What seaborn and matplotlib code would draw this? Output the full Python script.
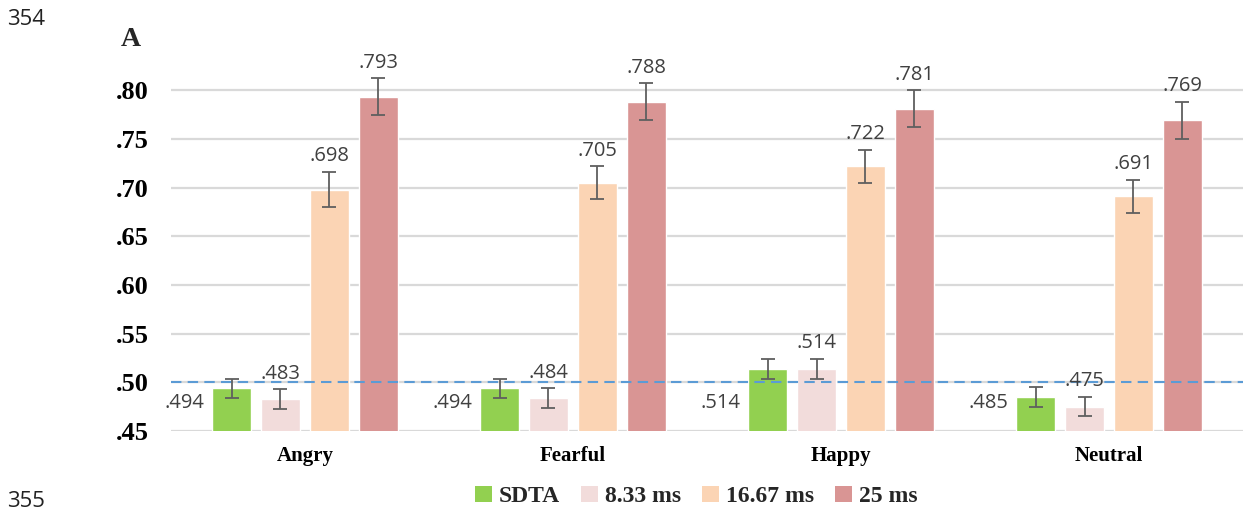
import numpy as np
import pandas as pd
import seaborn as sns
import matplotlib.pyplot as plt
from matplotlib.patches import Patch

emotions = ["Angry", "Fearful", "Happy", "Neutral"]
conditions = ["SDTA", "8.33 ms", "16.67 ms", "25 ms"]
sdta = [0.494, 0.494, 0.514, 0.485]
ms_833 = [0.483, 0.484, 0.514, 0.475]
ms_1667 = [0.698, 0.705, 0.722, 0.691]
ms_25 = [0.793, 0.788, 0.781, 0.769]
err_sdta = [0.010, 0.010, 0.010, 0.010]
err_833 = [0.010, 0.010, 0.010, 0.010]
err_1667 = [0.018, 0.017, 0.017, 0.017]
err_25 = [0.019, 0.019, 0.019, 0.019]
yticks = [0.45, 0.50, 0.55, 0.60, 0.65, 0.70, 0.75, 0.80]
ytick_labels = [".45", ".50", ".55", ".60", ".65", ".70", ".75", ".80"]
chance = 0.50

colors = ["#92D050", "#F2DCDB", "#FBD4B4", "#D99594"]

series = [sdta, ms_833, ms_1667, ms_25]
errors = [err_sdta, err_833, err_1667, err_25]
rows = []
for cond, vals, errs in zip(conditions, series, errors):
    for emo, v, e in zip(emotions, vals, errs):
        rows.append({"emotion": emo, "condition": cond, "acc": v, "err": e})
df = pd.DataFrame(rows)

sns.set_theme(style="white")
plt.rcParams["font.family"] = ["Liberation Serif", "DejaVu Serif"]

fig = plt.figure(figsize=(12.48, 5.12), dpi=100)
ax = fig.add_axes([0.137, 0.158, 0.859, 0.742])

sns.barplot(data=df, x="emotion", y="acc", hue="condition", order=emotions,
            hue_order=conditions, palette=colors, saturation=1, width=0.731, gap=0.2,
            errorbar=None, legend=False, ax=ax, zorder=3)

ax.set_ylim(0.45, 0.84)
ax.set_xlim(-0.5, 3.5)
ax.set_yticks(yticks)
ax.set_yticklabels(ytick_labels, fontsize=19, fontweight="bold", color="black")
for lab in ax.get_xticklabels():
    lab.set_fontsize(15)
    lab.set_fontweight("bold")
    lab.set_color("black")
ax.set_xlabel("")
ax.set_ylabel("")
ax.tick_params(axis="x", length=0, pad=11)
ax.tick_params(axis="y", length=0, pad=16)
for s in ax.spines.values():
    s.set_visible(False)
for t in yticks:
    ax.axhline(t, color="#D9D9D9", lw=1.6, zorder=1)
ax.axhline(chance, color="#5B9BD5", lw=1.5, ls=(0, (5, 3)), zorder=4)

value_font = dict(family=["Open Sans", "DejaVu Sans"], fontsize=14.5, color="#404040")
for ci, (container, vals, errs) in enumerate(zip(ax.containers, series, errors)):
    for bar, v, e in zip(container.patches, vals, errs):
        xc = bar.get_x() + bar.get_width() / 2
        ax.errorbar(xc, v, yerr=e, fmt="none", ecolor="#5F5F5F", elinewidth=1.3,
                    capsize=5, capthick=1.3, zorder=5)
        label = f"{v:.3f}"[1:]
        if ci == 0:
            ax.text(xc - bar.get_width() * 1.2, 0.479, label, ha="center",
                    va="center", zorder=6, **value_font)
        else:
            ax.annotate(label, (xc, v + e), xytext=(0, 4), textcoords="offset points",
                        ha="center", va="bottom", zorder=6, **value_font)

handles = [Patch(facecolor=c, edgecolor="none", label=l) for c, l in zip(colors, conditions)]
fig.legend(handles=handles, loc="center", bbox_to_anchor=(0.558, 0.03), ncol=4,
           frameon=False, handlelength=0.7, handleheight=0.7, handletextpad=0.3,
           columnspacing=0.9, prop=dict(family="Liberation Serif", weight="bold", size=17))

fig.text(0.097, 0.922, "A", fontsize=20, fontweight="bold", ha="left", va="center")
fig.text(0.006, 0.962, "354", fontsize=16, ha="left", va="center",
         family=["Open Sans", "DejaVu Sans"], color="#222222")
fig.text(0.006, 0.0, "355", fontsize=16, ha="left", va="bottom",
         family=["Open Sans", "DejaVu Sans"], color="#222222")

fig.savefig("out.png", dpi=100, facecolor="white")
